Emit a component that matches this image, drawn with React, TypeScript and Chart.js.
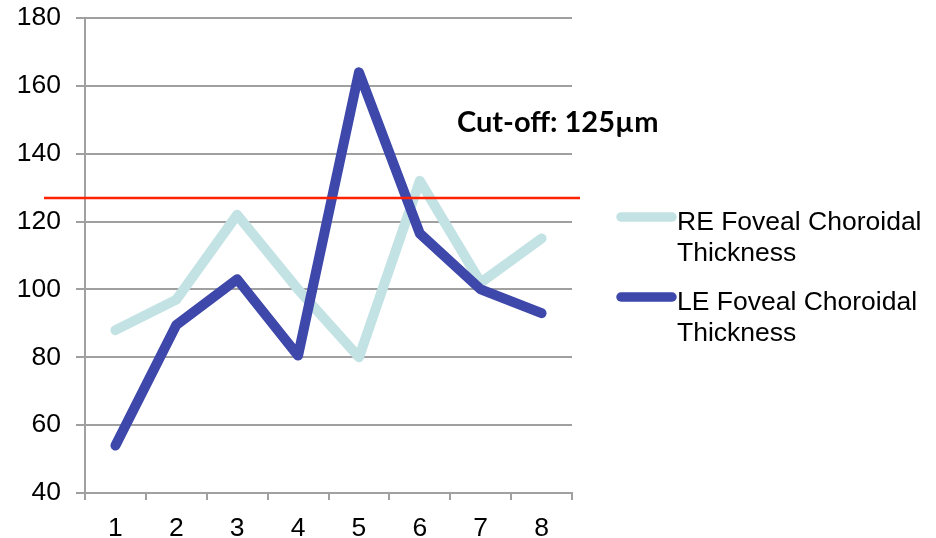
import React, { useEffect, useRef } from "react";
import { Chart, registerables } from "chart.js";

Chart.register(...registerables);

const categories = ["1", "2", "3", "4", "5", "6", "7", "8"];
const reValues = [88, 97, 122, 100, 80, 132, 102, 115];
const leValues = [54, 89.5, 103, 80.5, 164, 116.5, 100, 93];
const seriesNames = [
  ["RE Foveal Choroidal", "Thickness"],
  ["LE Foveal Choroidal", "Thickness"],
];
const seriesColors = ["#c3e2e4", "#3e47aa"];
const cutoffValue = 127;
const cutoffLabel = "Cut-off: 125µm";
const yMin = 40;
const yMax = 180;
const yStep = 20;

const FONT = "'Liberation Sans', Arial, sans-serif";
const FS = 26.5;

const overlayPlugin = {
  id: "overlay",
  afterDatasetsDraw(chart: any) {
    const ctx = chart.ctx;
    const y = Math.round(chart.scales.y.getPixelForValue(cutoffValue));
    ctx.save();
    ctx.strokeStyle = "#ff2200";
    ctx.lineWidth = 2.5;
    ctx.beginPath();
    ctx.moveTo(44, y);
    ctx.lineTo(580, y);
    ctx.stroke();
    ctx.restore();
  },
  afterDraw(chart: any) {
    const ctx = chart.ctx;
    ctx.save();
    ctx.fillStyle = "#000";
    ctx.font = "bold 29px Lato, 'Open Sans', sans-serif";
    ctx.textBaseline = "alphabetic";
    ctx.textAlign = "left";
    ctx.fillText(cutoffLabel, 457, 132);

    const legendTop = [217, 297];
    seriesNames.forEach((lines, i) => {
      const ly = legendTop[i];
      ctx.strokeStyle = seriesColors[i];
      ctx.lineWidth = 9.5;
      ctx.lineCap = "round";
      ctx.beginPath();
      ctx.moveTo(621, ly);
      ctx.lineTo(672, ly);
      ctx.stroke();
      ctx.fillStyle = "#000";
      ctx.font = `${FS}px ${FONT}`;
      ctx.textBaseline = "alphabetic";
      lines.forEach((t, j) => {
        ctx.fillText(t, 677, ly + 13 + j * 31);
      });
    });
    ctx.restore();
  },
};

export default function App() {
  const ref = useRef<HTMLCanvasElement>(null);
  useEffect(() => {
    if (!ref.current) return;
    const chart = new Chart(ref.current, {
      type: "line",
      data: {
        labels: categories,
        datasets: [
          {
            label: seriesNames[0].join(" "),
            data: reValues,
            borderColor: seriesColors[0],
            backgroundColor: seriesColors[0],
            borderWidth: 10,
            pointRadius: 0,
            tension: 0,
            borderCapStyle: "round",
            borderJoinStyle: "round",
            order: 1,
          },
          {
            label: seriesNames[1].join(" "),
            data: leValues,
            borderColor: seriesColors[1],
            backgroundColor: seriesColors[1],
            borderWidth: 10,
            pointRadius: 0,
            tension: 0,
            borderCapStyle: "round",
            borderJoinStyle: "round",
            order: 0,
          },
        ],
      },
      options: {
        responsive: false,
        animation: false,
        layout: { padding: { top: 18, right: 364, bottom: 0, left: 0 } },
        plugins: {
          legend: { display: false },
          tooltip: { enabled: false },
        },
        scales: {
          x: {
            offset: true,
            grid: {
              offset: true,
              drawOnChartArea: false,
              drawTicks: true,
              tickLength: 7,
              color: "#a0a0a0",
              lineWidth: 2,
            },
            border: { display: true, color: "#a0a0a0", width: 2 },
            ticks: {
              color: "#000",
              font: { family: FONT, size: FS },
              padding: 13,
              maxRotation: 0,
            },
            afterFit(scale: any) {
              scale.height = 45;
              scale.paddingLeft = 0;
              scale.paddingRight = 0;
            },
          },
          y: {
            min: yMin,
            max: yMax,
            ticks: {
              stepSize: yStep,
              color: "#000",
              font: { family: FONT, size: FS },
              padding: 15,
            },
            grid: {
              color: "#a0a0a0",
              lineWidth: 2,
              tickLength: 9,
            },
            border: { display: true, color: "#a0a0a0", width: 2 },
            afterFit(scale: any) {
              scale.width = 85;
              scale.paddingTop = 0;
              scale.paddingBottom = 0;
            },
          },
        },
      },
      plugins: [overlayPlugin],
    });
    return () => chart.destroy();
  }, []);
  return (
    <div style={{ position: "absolute", left: 0, top: 0, width: 936, height: 538, background: "#fff" }}>
      <canvas ref={ref} width={936} height={538} />
    </div>
  );
}
